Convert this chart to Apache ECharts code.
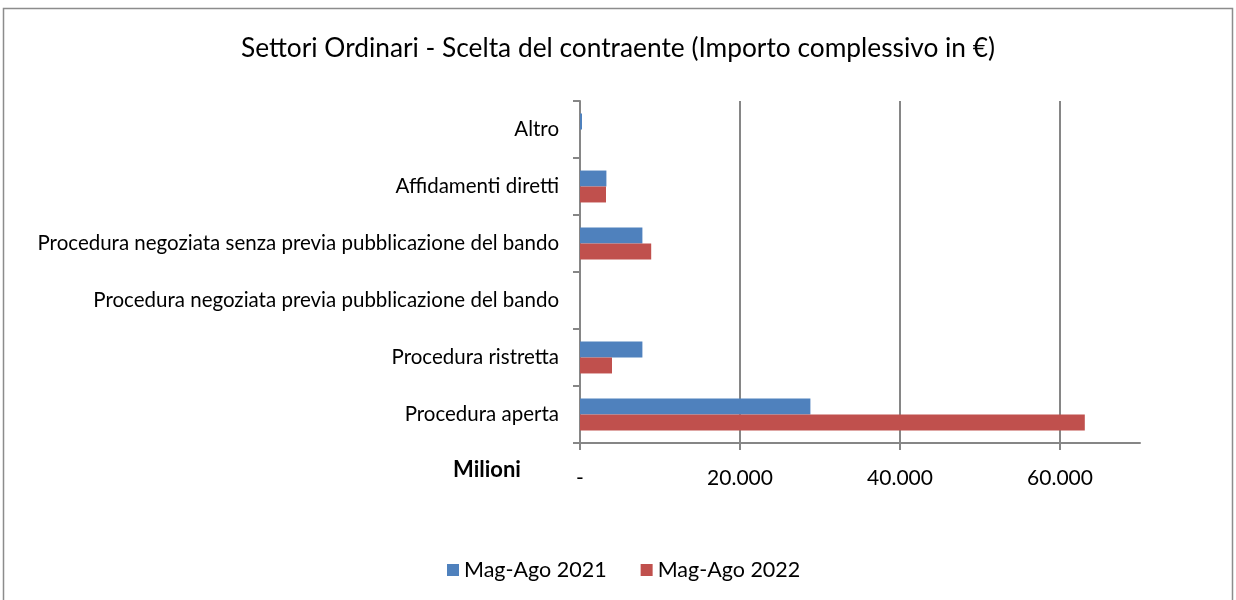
<!DOCTYPE html>
<html>
<head>
<meta charset="utf-8">
<script src="https://cdn.jsdelivr.net/npm/echarts@6/dist/echarts.min.js"></script>
<style>html,body{margin:0;padding:0;background:#fff}#c{width:1236px;height:600px}</style>
</head>
<body>
<div id="c"></div>
<script>
const categories = ["Procedura aperta", "Procedura ristretta", "Procedura negoziata previa pubblicazione del bando", "Procedura negoziata senza previa pubblicazione del bando", "Affidamenti diretti", "Altro"];
const series2021 = [28800, 7800, 0, 7800, 3300, 250];
const series2022 = [63100, 4000, 0, 8900, 3250, 0];
const seriesNames = ["Mag-Ago 2021", "Mag-Ago 2022"];
const tickValues = [0, 20000, 40000, 60000];

const FONT = "Lato";
const chart = echarts.init(document.getElementById('c'), null, {renderer: 'canvas'});
chart.setOption({
  animation: false,
  backgroundColor: '#fff',
  title: {
    text: 'Settori Ordinari - Scelta del contraente (Importo complessivo in €)',
    left: 'center', top: 31,
    textStyle: {fontFamily: FONT, fontSize: 26.3, fontWeight: 'normal', color: '#000'}
  },
  legend: {
    data: seriesNames,
    bottom: 14, left: 442,
    itemWidth: 12, itemHeight: 12, itemGap: 34,
    icon: 'rect',
    textStyle: {fontFamily: FONT, fontSize: 21.5, color: '#000'}
  },
  grid: {left: 580, right: 96, top: 101, bottom: 157, containLabel: false},
  xAxis: {
    type: 'value', min: 0, max: 70000, interval: 20000,
    axisLine: {show: true, lineStyle: {color: '#868686', width: 2}},
    axisTick: {show: true, length: 7, lineStyle: {color: '#868686', width: 2}, customValues: tickValues},
    axisLabel: {
      customValues: tickValues,
      margin: 25, fontFamily: FONT, fontSize: 21, color: '#000',
      formatter: v => v === 0 ? '-' : (v / 1000).toFixed(0) + '.000'
    },
    splitLine: {show: true, showMinLine: false, showMaxLine: true, lineStyle: {color: '#868686', width: 2}}
  },
  yAxis: {
    type: 'category', data: categories,
    axisLine: {show: true, lineStyle: {color: '#868686', width: 2}},
    axisTick: {show: true, length: 7, lineStyle: {color: '#868686', width: 2}},
    axisLabel: {margin: 21, fontFamily: FONT, fontSize: 20.5, color: '#000'}
  },
  graphic: [
    {type: 'rect', shape: {x: 3.5, y: 8.5, width: 1229, height: 620}, style: {fill: 'none', stroke: '#8c8c8c', lineWidth: 1.5}, silent: true},
    {type: 'text', left: 453, top: 459, style: {text: 'Milioni', fontFamily: FONT, fontSize: 22, fontWeight: 'bold', fill: '#000'}}
  ],
  series: [
    {name: seriesNames[0], type: 'bar', data: series2021, barGap: '0%', barCategoryGap: '44%', itemStyle: {color: '#4F81BD'}},
    {name: seriesNames[1], type: 'bar', data: series2022, barGap: '0%', barCategoryGap: '44%', itemStyle: {color: '#C0504D'}}
  ]
});
</script>
</body>
</html>
